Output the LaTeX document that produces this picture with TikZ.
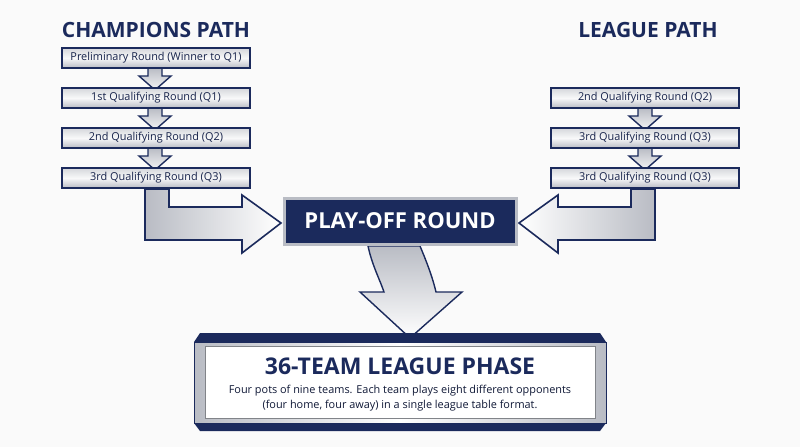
\documentclass[tikz,border=0pt]{standalone}
\usepackage{fontspec}
\setmainfont{Open Sans}
\begin{document}
\definecolor{navy}{HTML}{1B2A5C}
\definecolor{steel}{HTML}{B9BCC4}
\begin{tikzpicture}[x=1pt,y=-1pt,
  rbox/.style={draw=navy,line width=2pt,top color=steel!60,bottom color=steel,middle color=white!90!steel,minimum width=188pt,minimum height=20pt,inner sep=0pt,font=\fontsize{10.9}{12}\selectfont,text=navy!80!black},
  arr/.style={draw=navy,line width=1.6pt,left color=steel,right color=white,line join=miter},
  dn/.style={draw=navy,line width=1.4pt,top color=steel,bottom color=white!85!steel},
  ttl/.style={font=\bfseries\fontsize{21}{24}\selectfont,text=navy}]
\fill[white!96!gray] (0,0) rectangle (800,447);
\node[ttl] (cp) at (156,30) {CHAMPIONS PATH};
\node[ttl] (lp) at (648,30) {LEAGUE PATH};
\foreach \x/\y in {155/68,155/108,155/148,645/108,645/148}{
  \draw[dn] (\x-7,\y) -- (\x+7,\y) -- (\x+7,\y+8) -- (\x+16,\y+8) -- (\x,\y+22) -- (\x-16,\y+8) -- (\x-7,\y+8) -- cycle;}
\node[rbox] (l0) at (156,58) {Preliminary Round (Winner to Q1)};
\node[rbox] (l1) at (156,98) {1st Qualifying Round (Q1)};
\node[rbox] (l2) at (156,138) {2nd Qualifying Round (Q2)};
\node[rbox] (l3) at (156,178) {3rd Qualifying Round (Q3)};
\node[rbox] (r1) at (645,98) {2nd Qualifying Round (Q2)};
\node[rbox] (r2) at (645,138) {3rd Qualifying Round (Q3)};
\node[rbox] (r3) at (645,178) {3rd Qualifying Round (Q3)};
\draw[arr] (145,189) -- (169,189) -- (169,207) -- (242,207) -- (242,195) -- (281,223) -- (242,253) -- (242,240) -- (145,240) -- cycle;
\draw[arr,left color=white,right color=steel] (655,189) -- (631,189) -- (631,207) -- (558,207) -- (558,195) -- (519,223) -- (558,253) -- (558,240) -- (655,240) -- cycle;
\draw[dn,left color=navy!70,right color=white,top color=steel] (368,246) .. controls (372,265) and (380,280) .. (384,292) -- (360,292) -- (410,338) -- (462,292) -- (436,292) .. controls (432,275) and (425,258) .. (420,246) -- cycle;
\node[draw=steel,line width=3pt,fill=navy,minimum width=232pt,minimum height=46pt,text=white,font=\bfseries\fontsize{22}{25}\selectfont] (po) at (400,221) {PLAY-OFF ROUND};
\fill[navy] (200,333) -- (600,333) -- (606,342) -- (194,342) -- cycle;
\fill[navy] (194,423) -- (606,423) -- (600,431) -- (200,431) -- cycle;
\fill[left color=steel,right color=steel,middle color=white] (194,342) rectangle (606,423);
\node[fill=white,draw=steel!70!black,line width=0.6pt,minimum width=390pt,minimum height=72pt,inner sep=0pt] (lp2) at (400,382.5) {};
\draw[navy,line width=1pt] (194,342) rectangle (606,423);
\node[font=\bfseries\fontsize{23}{26}\selectfont,text=navy] (lt) at (400,366) {36-TEAM LEAGUE PHASE};
\node[align=center,font=\fontsize{10.9}{14.5}\selectfont,text=navy!60!black] (ld) at (400,398) {Four pots of nine teams. Each team plays eight different opponents\\(four home, four away) in a single league table format.};
\end{tikzpicture}
\end{document}
